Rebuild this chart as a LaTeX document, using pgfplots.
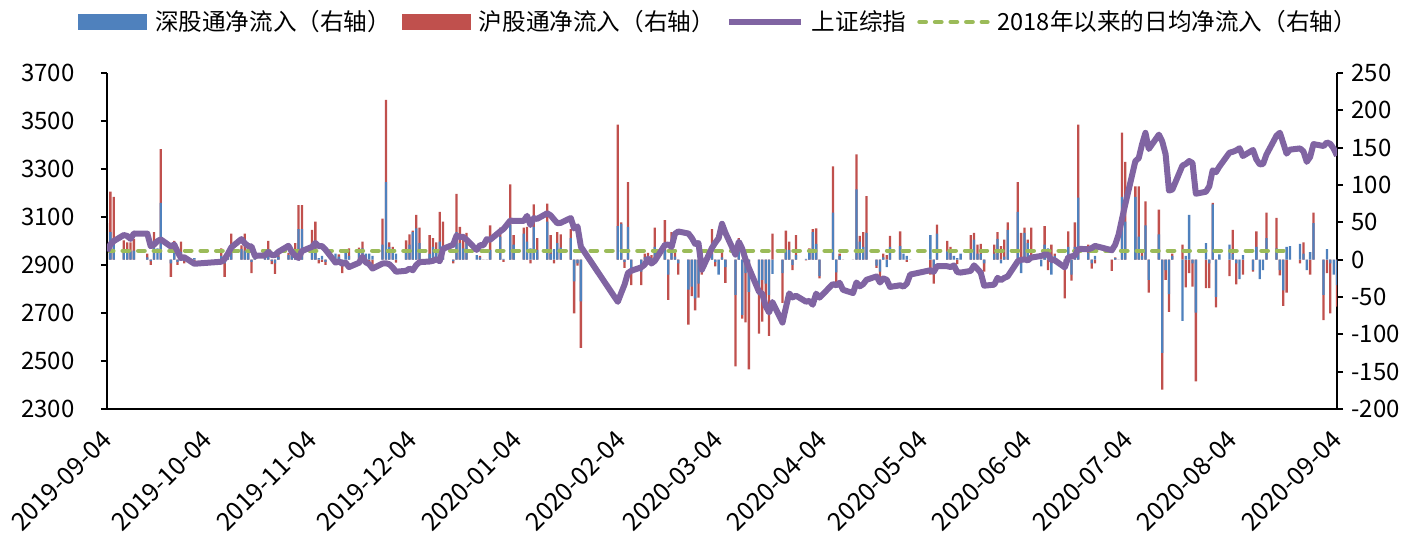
\documentclass[border=0pt]{standalone}
\usepackage{fontspec}
\setmainfont{Noto Sans CJK SC}
\usepackage{pgfplots}
\usepackage{pgfplotstable}
\pgfplotsset{compat=1.18}
\definecolor{szblue}{RGB}{79,129,189}
\definecolor{shred}{RGB}{192,80,77}
\definecolor{idxpurple}{RGB}{128,100,162}
\definecolor{avggreen}{RGB}{155,187,89}

\pgfplotstableread{
d sz sh idx
0 25 24 2957.41
1 37 54 2985.86
2 20 64 2999.60
5 12 14 3024.74
6 10 13 3021.20
7 11 12 3008.81
8 12 16 3031.24
12 3 5 3030.75
13 -2 -5 2978.12
14 16 21 2985.34
15 15 0 2999.28
16 76 72 3006.45
19 -5 -18 2977.08
20 13 12 2985.34
21 -3 -4 2955.43
22 10 14 2929.09
23 -2 -3 2932.17
26 2 -3 2905.19
34 5 10 2913.57
35 -5 -18 2924.86
36 8 5 2947.71
37 17 18 2973.66
40 14 5 3007.88
41 12 23 2991.05
42 10 5 2978.71
43 -3 -15 2977.33
44 5 5 2938.14
47 6 4 2939.62
48 5 20 2954.38
49 -2 -4 2941.62
50 -5 -14 2940.92
51 4 2 2954.93
54 6 3 2980.05
55 8 2 2954.18
56 10 12 2939.32
57 41 32 2929.06
58 41 32 2958.20
61 22 18 2975.49
62 15 36 2991.56
63 2 -5 2978.60
64 5 -3 2978.71
65 -3 -4 2964.18
68 8 -2 2909.97
69 4 3 2914.82
70 -5 -13 2905.24
71 11 0 2909.87
72 5 10 2891.34
75 13 3 2909.20
76 15 9 2933.99
77 8 -3 2911.05
78 8 -2 2903.64
79 5 -8 2885.29
82 20 35 2906.17
83 104 110 2907.06
84 17 6 2903.19
85 10 7 2889.69
86 8 -4 2871.98
89 13 13 2875.81
90 20 14 2884.70
91 37 2 2878.12
92 42 18 2899.47
93 22 21 2912.01
96 8 25 2914.48
97 17 12 2917.32
98 12 11 2924.42
99 24 40 2915.70
100 15 36 2967.68
103 -2 -3 2984.39
104 37 51 3022.42
105 22 22 3017.04
106 15 19 3017.07
107 22 14 3004.94
110 6 0 2962.75
111 3 2 2982.68
112 0 0 2981.88
113 0 0 3007.35
114 13 33 3005.04
117 31 12 3040.02
118 1 -3 3050.12
120 47 54 3085.20
121 20 13 3083.79
124 35 8 3083.41
125 24 20 3104.80
126 15 -5 3066.89
127 44 30 3094.88
128 13 16 3092.29
131 51 24 3115.57
132 8 25 3106.82
133 14 -5 3090.04
134 22 15 3074.08
135 16 18 3075.50
138 29 12 3095.79
139 -29 -43 3052.14
140 -5 -3 3060.75
141 -56 -62 2976.53
152 45 136 2746.61
153 48 2 2783.29
154 -3 -8 2818.09
155 44 60 2866.51
156 -18 -16 2875.96
159 -16 -18 2890.49
160 3 5 2901.67
161 4 5 2926.90
162 2 4 2906.07
163 17 26 2917.01
166 13 40 2983.62
167 -20 -34 2984.97
168 22 15 2975.40
169 4 9 3030.15
170 -5 -15 3039.67
173 -40 -47 3031.23
174 -36 -13 3013.05
175 -52 -16 2987.93
176 -32 -19 2991.33
177 -8 -12 2880.30
180 8 33 2970.93
181 -3 -6 2992.90
182 -20 0 3011.67
183 3 8 3071.68
184 -10 -21 3034.51
187 -47 -96 2943.29
188 17 12 2996.76
189 -74 -5 2968.52
190 -18 -66 2923.49
191 -43 -104 2887.43
194 -47 -52 2789.25
195 -27 -56 2779.64
196 -32 -35 2728.76
197 -47 -55 2702.13
198 -19 35 2745.62
201 -18 -40 2660.17
202 13 26 2722.44
203 13 11 2781.59
204 -7 -7 2764.91
205 6 27 2772.20
208 1 -1 2747.21
209 12 3 2750.30
210 37 4 2734.52
211 21 21 2780.64
212 -22 -3 2763.99
216 63 62 2820.76
217 -17 -14 2815.37
218 5 3 2825.90
219 0 0 2796.63
222 0 0 2783.05
223 94 47 2827.28
224 24 8 2811.17
225 17 20 2819.94
226 36 49 2838.49
229 -8 -3 2852.55
230 -16 -7 2827.01
231 3 5 2843.98
232 -10 6 2838.50
233 17 15 2808.53
236 18 20 2815.49
237 8 0 2810.02
238 5 -3 2822.44
239 0 0 2860.08
245 33 -20 2878.14
246 -10 -22 2871.52
247 35 12 2895.34
250 11 14 2894.80
251 11 6 2891.56
252 5 0 2898.05
253 2 -6 2870.34
254 8 0 2868.46
257 13 20 2875.42
258 27 9 2898.58
259 8 12 2883.74
260 8 13 2867.92
261 -5 -11 2813.77
264 8 12 2817.97
265 28 9 2846.55
266 -5 18 2836.80
267 4 23 2846.22
268 40 10 2852.35
271 64 40 2915.43
272 -18 36 2921.40
273 36 7 2923.37
274 22 5 2919.25
275 2 41 2930.80
278 -9 0 2937.77
279 20 25 2943.75
280 15 -14 2943.32
281 -20 20 2920.90
282 5 3 2919.74
285 -10 -42 2890.03
286 17 21 2931.75
287 -20 -8 2935.87
288 17 33 2939.32
289 83 98 2967.63
292 9 11 2965.27
293 -5 -7 2970.62
294 5 -5 2979.55
299 0 -15 2961.52
300 2 1 2984.67
301 0 0 3025.98
302 84 86 3090.57
303 51 80 3152.81
306 84 14 3332.88
307 31 67 3345.34
308 5 5 3403.44
309 46 32 3450.59
310 -27 -17 3383.32
313 34 33 3443.29
314 -125 -49 3414.62
315 -14 -13 3361.30
316 -46 -24 3210.10
317 5 3 3214.13
320 -82 20 3314.15
321 5 -37 3320.90
322 60 -18 3333.16
323 -5 -31 3325.11
324 -71 -92 3196.77
327 22 -38 3205.23
328 -5 -33 3227.96
329 74 2 3294.55
330 -50 -14 3286.82
331 7 0 3310.01
334 20 -22 3367.97
335 8 32 3371.69
336 -5 -28 3377.56
337 -26 0 3386.46
338 6 -20 3354.04
341 -14 -2 3379.25
342 17 21 3340.29
343 -26 0 3319.27
344 -14 0 3320.73
345 29 34 3360.10
348 15 41 3438.80
349 -14 -7 3451.09
350 -41 -21 3408.13
351 17 -44 3363.90
352 18 0 3380.68
355 21 -5 3385.64
356 8 15 3373.58
357 -14 0 3329.74
358 10 -20 3350.11
359 49 14 3403.81
362 -47 -34 3395.68
363 14 -18 3410.61
364 -5 -67 3404.80
365 -20 0 3384.98
366 -34 -29 3355.37
}\datatable

\begin{document}
\fontsize{12pt}{14pt}\selectfont
\begin{tikzpicture}
\pgfplotsset{
  base/.style={
    scale only axis, width=615pt, height=168pt,
    at={(0,0)}, anchor=south west,
    xmin=0, xmax=366,
    axis line style={-, line width=1pt, black},
    tick align=outside, major tick length=3pt,
    tick style={black, line width=1pt},
    /pgf/number format/assume math mode=true,
    /pgf/number format/1000 sep={},
    tick label style={font=\fontsize{12pt}{14pt}\selectfont},
  }
}
% right axis: bars + average line
\begin{axis}[base,
  axis y line*=right, axis x line=none,
  ymin=-200, ymax=250, ytick={-200,-150,...,250},
]
\addplot[ybar, bar width=1.15pt, bar shift=0pt, fill=shred, draw=none]
  table[x=d, y expr={\thisrow{sz}*\thisrow{sh}>0 ? \thisrow{sz}+\thisrow{sh} : \thisrow{sh}}]{\datatable};
\addplot[ybar, bar width=1.15pt, bar shift=0pt, fill=szblue, draw=none]
  table[x=d, y=sz]{\datatable};
\addplot[avggreen, line width=2.2pt, line cap=round, dash pattern=on 3.2pt off 4.6pt]
  coordinates {(0,11.9) (352,11.9)};
\end{axis}
% left axis: index line
\begin{axis}[base,
  axis y line*=left, axis x line*=bottom,
  ymin=2300, ymax=3700, ytick={2300,2500,...,3700},
  y tick label style={xshift=-9pt},
  xtick={0,30,61,91,122,153,182,213,243,274,304,335,366},
  xticklabels={2019-09-04,2019-10-04,2019-11-04,2019-12-04,2020-01-04,2020-02-04,2020-03-04,2020-04-04,2020-05-04,2020-06-04,2020-07-04,2020-08-04,2020-09-04},
  x tick label style={font=\fontsize{12.5pt}{14pt}\selectfont, xshift=-3.5pt, yshift=-1pt, rotate=45, anchor=north east},
  x tick style={draw=none},
  legend style={at={(0.4976,1)}, anchor=center, yshift=25.5pt, draw=none, fill=none,
    legend columns=-1, font=\fontsize{11.8pt}{14pt}\selectfont,
    /tikz/every odd column/.append style={column sep=2.5pt},
    /tikz/every even column/.append style={column sep=4pt},
    nodes={inner sep=1.5pt}},
]
\addlegendimage{legend image code/.code={\fill[szblue] (0pt,-3.75pt) rectangle (34pt,3.75pt);}}
\addlegendentry{深股通净流入（右轴）}
\addlegendimage{legend image code/.code={\fill[shred] (0pt,-3.75pt) rectangle (34pt,3.75pt);}}
\addlegendentry{沪股通净流入（右轴）}
\addplot[idxpurple, line width=3pt, line join=round,
  legend image code/.code={\draw[idxpurple, line width=3pt] (0pt,0pt) -- (36pt,0pt);}]
  table[x=d, y=idx]{\datatable};
\addlegendentry{上证综指}
\addlegendimage{legend image code/.code={\draw[avggreen, line width=2.2pt, line cap=round, dash pattern=on 3.2pt off 4.6pt] (1pt,0pt) -- (35pt,0pt);}}
\addlegendentry{2018年以来的日均净流入（右轴）}
\end{axis}
\pgfresetboundingbox
\path[use as bounding box] (-53.5pt,-65pt) rectangle (653.5pt,204.5pt);
\end{tikzpicture}
\end{document}
